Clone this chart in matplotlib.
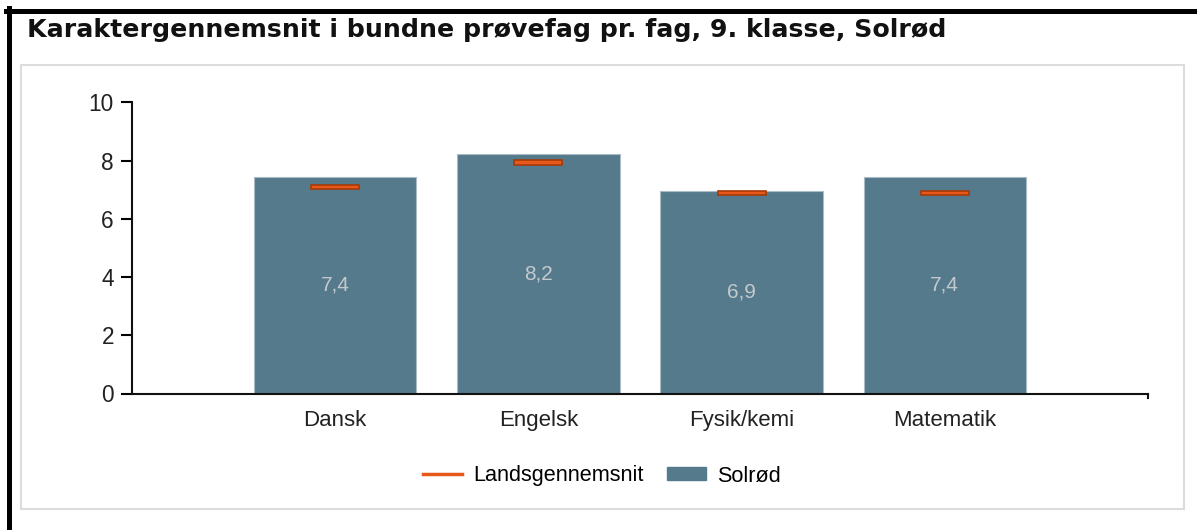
import matplotlib.pyplot as plt
from matplotlib.lines import Line2D
from matplotlib.patches import Patch, Rectangle

# data
fag = ['Dansk', 'Engelsk', 'Fysik/kemi', 'Matematik']
solrod = [7.44, 8.24, 6.94, 7.44]
lands = [7.09, 7.94, 6.88, 6.88]
yticks = [0, 2, 4, 6, 8, 10]

bar_color = '#557a8c'
line_color = '#e8581a'
W, H = 1197, 530

fig = plt.figure(figsize=(W / 100, H / 100), dpi=100)
fig.patch.set_facecolor('white')

# frame decorations: black border on top/left, light grey inner box
fig.add_artist(Line2D([8.5 / W, 8.5 / W], [0, 1 - 8 / H], color='black', lw=3.6))
fig.add_artist(Line2D([6 / W, 1], [1 - 10.5 / H, 1 - 10.5 / H], color='black', lw=3.6))
fig.add_artist(Rectangle((21 / W, 1 - 509 / H), (1184 - 21) / W, (509 - 65) / H,
                         transform=fig.transFigure, fill=False,
                         edgecolor='#dcdcdc', lw=1.5))

fig.text(27 / W, 1 - 30 / H, 'Karaktergennemsnit i bundne prøvefag pr. fag, 9. klasse, Solrød',
         fontsize=18.2, fontweight='bold', family='DejaVu Sans', color='#111111',
         ha='left', va='center')

ax = fig.add_axes([132 / W, 1 - 393.5 / H, (1148 - 132) / W, (393.5 - 102.3) / H])
x = list(range(len(fag)))
ax.bar(x, solrod, width=0.8, color=bar_color, edgecolor='#a9bcc6', linewidth=0.8, zorder=2)
ax.bar(x, [0.16] * len(fag), bottom=[v - 0.08 for v in lands], width=0.236,
       color=line_color, edgecolor='#a83a08', linewidth=1.2, zorder=3)

for xi, v in zip(x, solrod):
    ax.text(xi, v / 2, f'{v:.1f}'.replace('.', ','), ha='center', va='center',
            fontsize=15, family='Liberation Sans', color='#c4c9cd', zorder=4)

ax.set_xlim(-1, 4)
ax.set_ylim(0, 10)
ax.set_yticks(yticks)
ax.set_xticks(x)
ax.set_xticklabels(fag)
for s in ['top', 'right']:
    ax.spines[s].set_visible(False)
for s in ['left', 'bottom']:
    ax.spines[s].set_linewidth(1.5)
    ax.spines[s].set_color('#111111')
ax.tick_params(axis='y', length=8, width=1.5, pad=5, labelsize=16.3, labelcolor='#222222')
ax.tick_params(axis='x', length=0, pad=12, labelsize=16, labelcolor='#222222')
for lbl in ax.get_xticklabels() + ax.get_yticklabels():
    lbl.set_family('Liberation Sans')
# small closing tick at the right end of the x axis
ax.plot([4, 4], [0, -0.15], color='#111111', lw=1.5, clip_on=False)

handles = [Line2D([0], [0], color=line_color, lw=2.5),
           Patch(facecolor=bar_color, edgecolor=bar_color)]
fig.legend(handles, ['Landsgennemsnit', 'Solrød'], loc='center',
           bbox_to_anchor=(602 / W, 1 - 476 / H), ncol=2, frameon=False,
           prop={'family': 'Liberation Sans', 'size': 15.6},
           handlelength=1.8, handleheight=0.55, handletextpad=0.5, columnspacing=1.1)

fig.savefig('out.png', dpi=100)
